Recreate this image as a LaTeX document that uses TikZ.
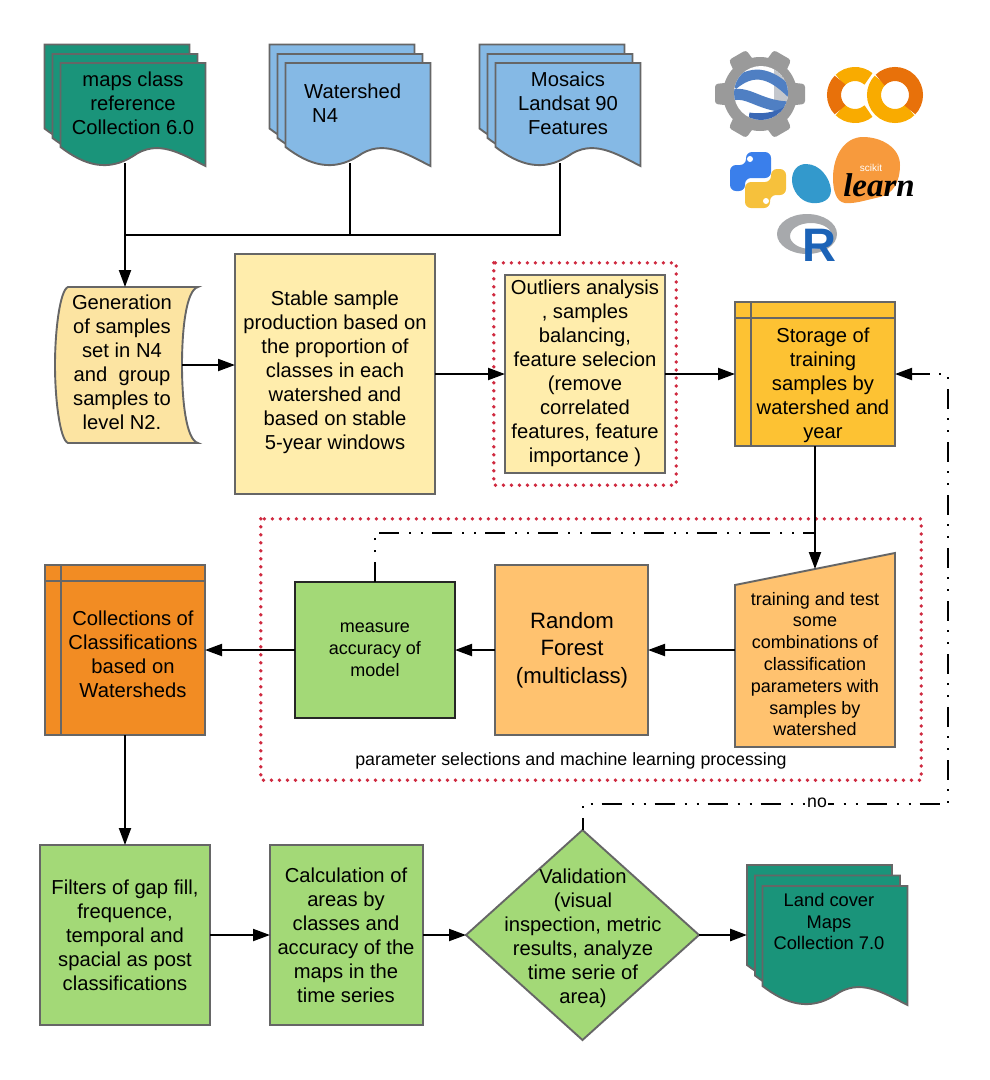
\documentclass[tikz,border=0pt]{standalone}
\usepackage{fontspec}
\setmainfont{Liberation Sans}
\newfontfamily\logoserif{Liberation Serif}
\usetikzlibrary{arrows.meta,shapes.geometric}
\definecolor{edgegray}{HTML}{666666}
\definecolor{tealdoc}{HTML}{1A947A}
\definecolor{bluedoc}{HTML}{85B9E5}
\definecolor{genyellow}{HTML}{FCE4A2}
\definecolor{paleyellow}{HTML}{FFEDAC}
\definecolor{storeamber}{HTML}{FDC233}
\definecolor{deeporange}{HTML}{F28C23}
\definecolor{softorange}{HTML}{FFC26F}
\definecolor{leafgreen}{HTML}{A3D977}
\definecolor{dotred}{HTML}{CF2A40}
\definecolor{geargray}{HTML}{9A9A9A}
\definecolor{globeblue}{HTML}{4F7FC3}
\definecolor{globedeep}{HTML}{3A68B5}
\definecolor{globeshade}{HTML}{C4C7CC}
\definecolor{colabyellow}{HTML}{F9AB00}
\definecolor{colaborange}{HTML}{E8710A}
\definecolor{pyblue}{HTML}{3A7FEB}
\definecolor{pyyellow}{HTML}{F6C13C}
\definecolor{blobblue}{HTML}{3399CC}
\definecolor{bloborange}{HTML}{F79A3D}
\definecolor{rgray}{HTML}{A7A9AC}
\definecolor{rblue}{HTML}{1C63B7}
\tikzset{
  x=1pt,y=-1pt,
  shapeedge/.style={draw=edgegray,line width=1.9pt,line join=miter},
  ghost/.style={inner sep=0pt,outer sep=0pt,minimum width=#1},
  box/.style={shapeedge,inner sep=0pt,outer sep=0pt},
  txt/.style={font=\fontsize{20.2}{24}\selectfont,align=center,inner sep=0pt,text=black},
  txtsmall/.style={font=\fontsize{18}{21.8}\selectfont,align=center,inner sep=0pt,text=black},
  conn/.style={draw=black,line width=2pt,-{Triangle[length=17pt,width=12pt]}},
  plainconn/.style={draw=black,line width=2pt},
  loopconn/.style={draw=black,line width=2pt,dash pattern=on 20pt off 10pt on 2pt off 10pt on 2pt off 9pt},
  reddots/.style={draw=dotred,line width=3.8pt,line cap=round,dash pattern=on 0pt off 8pt},
}
\newcommand{\docpage}[6]{% x,y,w,h,wave,colour
  \begin{scope}[shift={(#1,#2)}]
    \pgfmathsetmacro{\wa}{#3*0.17}\pgfmathsetmacro{\wb}{#3*0.33}\pgfmathsetmacro{\wc}{#3*0.5}
    \pgfmathsetmacro{\wd}{#3*0.67}\pgfmathsetmacro{\we}{#3*0.83}
    \path[shapeedge,fill=#6] (0,0) -- (#3,0) -- (#3,#4+#5)
      .. controls (\we,#4+#5*0.35) and (\wd,#4-#5*0.45) .. (\wc,#4+#5*0.48)
      .. controls (\wb,#4+#5*1.3) and (\wa,#4+#5*1.0) .. (0,#4) -- cycle;
  \end{scope}}
\newcommand{\docstack}[9]{% x1,y1,x2,y2,x3,y3,w,h,colour
  \docpage{#1}{#2}{#7}{#8}{19}{#9}\docpage{#3}{#4}{#7}{#8}{19}{#9}\docpage{#5}{#6}{#7}{#8}{19}{#9}}
\begin{document}
\begin{tikzpicture}
\useasboundingbox (0,0) rectangle (989,1080);

% document stacks
\docstack{44.5}{44.5}{52.5}{54}{60.5}{63}{145}{84}{tealdoc}
\docstack{269.5}{44.5}{277.5}{54}{285.5}{63}{145}{84}{bluedoc}
\docstack{479.5}{44.5}{487.5}{54}{495.5}{63}{145}{84}{bluedoc}
\docstack{747}{865}{755}{875.5}{762.5}{886}{145}{100}{tealdoc}
\node[ghost=145pt,minimum height=100pt] (maps) at (133,113) {};
\node[ghost=145pt,minimum height=100pt] (water) at (358,113) {};
\node[ghost=145pt,minimum height=100pt] (mosaics) at (568,113) {};
\node[ghost=160pt,minimum height=120pt] (landcover) at (827,935) {};
\node[txt] (mapst) at (133,103) {maps class\\reference\\Collection 6.0};
\node[txt,align=left,anchor=west] (watert) at (304,103.5) {Watershed\\\hspace*{8pt}N4};
\node[txt] (mosaicst) at (568,103) {Mosaics\\Landsat 90\\Features};
\node[font=\fontsize{18.3}{21.7}\selectfont,align=center,inner sep=0pt] (landcovert) at (829,921.5) {Land cover\\Maps\\Collection 7.0};

% generation (stored data)
\path[shapeedge,fill=genyellow] (68,287) -- (198,287)
  .. controls (186,290) and (182,330) .. (182,365)
  .. controls (182,400) and (186,440) .. (198,443)
  -- (68,443)
  .. controls (60,440) and (55,400) .. (55,365)
  .. controls (55,330) and (60,290) .. (68,287) -- cycle;
\node[ghost=114pt,minimum height=156pt] (gen) at (125,365) {};
\node[txt] (gent) at (122,362) {Generation\\of samples\\set in N4\\and\ \ group\\samples to\\level N2.};

% process boxes
\node[box,fill=paleyellow,minimum width=200pt,minimum height=240pt] (stable) at (335,374) {};
\node[txt] (stablet) at (335,372) {Stable sample\\production based on\\the proportion of\\classes in each\\watershed and\\based on stable\\5-year windows};
\node[box,fill=paleyellow,minimum width=160pt,minimum height=198pt] (outliers) at (585,374) {};
\node[txt] (outlierst) at (585,373.5) {Outliers analysis\\, samples\\balancing,\\feature selecion\\(remove\\correlated\\features, feature\\importance )};
\node[box,fill=storeamber,minimum width=160pt,minimum height=144pt] (storage) at (815,374) {};
\draw[shapeedge] ([xshift=16pt]storage.north west) -- ([xshift=16pt]storage.south west);
\draw[shapeedge] ([yshift=-16pt]storage.north west) -- ([yshift=-16pt]storage.north east);
\node[txt] (storaget) at (823,385) {Storage of\\training\\samples by\\watershed and\\year};

\path[shapeedge,fill=softorange] (735,585) -- (895,553) -- (895,747) -- (735,747) -- cycle;
\node[ghost=160pt,minimum height=162pt] (train) at (815,650) {};
\node[txtsmall] (traint) at (815,664) {training and test\\some\\combinations of\\classification\\parameters with\\samples by\\watershed};
\node[box,fill=softorange,minimum width=153pt,minimum height=170pt] (rf) at (571.5,650) {};
\node[font=\fontsize{22.2}{27.5}\selectfont,align=center,inner sep=0pt] (rft) at (572,650) {Random\\Forest\\(multiclass)};
\node[box,draw=black!85,fill=leafgreen,minimum width=160pt,minimum height=136pt] (measure) at (375,650) {};
\node[txtsmall] (measuret) at (375,650) {measure\\accuracy of\\model};
\node[box,fill=deeporange,minimum width=160pt,minimum height=170pt] (coll) at (125,650) {};
\draw[shapeedge] ([xshift=16pt]coll.north west) -- ([xshift=16pt]coll.south west);
\draw[shapeedge] ([yshift=-16pt]coll.north west) -- ([yshift=-16pt]coll.north east);
\node[txt] (collt) at (133,654.5) {Collections of\\Classifications\\based on\\Watersheds};

\node[box,fill=leafgreen,minimum width=170pt,minimum height=180pt] (filters) at (125,935) {};
\node[txt] (filterst) at (125,935.5) {Filters of gap fill,\\frequence,\\temporal and\\spacial as post\\classifications};
\node[box,fill=leafgreen,minimum width=153pt,minimum height=180pt] (calc) at (346.5,935) {};
\node[txt] (calct) at (346,935) {Calculation of\\areas by\\classes and\\accuracy of the\\maps in the\\time series};
\node[box,diamond,fill=leafgreen,minimum width=233pt,minimum height=210pt] (valid) at (582.5,935) {};
\node[txt] (validt) at (583,938) {Validation\\(visual\\inspection, metric\\results, analyze\\time serie of\\area)};

% dotted groups
\node[draw=none,minimum width=182pt,minimum height=222pt,inner sep=0pt] (groupa) at (585,374) {};
\draw[reddots] (groupa.north west) rectangle (groupa.south east);
\node[draw=none,minimum width=660pt,minimum height=261pt,inner sep=0pt] (groupb) at (591,649.5) {};
\draw[reddots] (groupb.north west) rectangle (groupb.south east);
\node[font=\fontsize{17.8}{21}\selectfont,inner sep=0pt] (caption) at (571,761) {parameter selections and machine learning processing};

% connectors
\coordinate (bus) at (125,235);
\coordinate (loopa) at (815,533);
\coordinate (loopb) at (948,804);
\draw[plainconn] ([xshift=-8pt]water.south) |- (bus);
\draw[plainconn] ([xshift=-8pt]mosaics.south) |- (bus);
\draw[conn] (maps.south -| gen.north) -- (gen.north);
\draw[conn] (gen.east) -- (gen.east -| stable.west);
\draw[conn] (stable.east) -- (outliers.west);
\draw[conn] (outliers.east) -- (storage.west);
\draw[conn] (storage.south) -- (train.north);
\draw[conn] (train.west) -- (rf.east);
\draw[conn] (rf.west) -- (measure.east);
\draw[conn] (measure.west) -- (coll.east);
\draw[conn] (coll.south) -- (filters.north);
\draw[conn] (filters.east) -- (calc.west);
\draw[conn] (calc.east) -- (valid.west);
\draw[conn,line width=2.8pt] (valid.east) -- (landcover.west);
\draw[loopconn,dash phase=8pt,-{Triangle[length=17pt,width=12pt]}] (valid.north) |- (loopb) |- (storage.east);
\draw[loopconn] (measure.north) |- (loopa);
\node[font=\fontsize{17.7}{21}\selectfont,fill=white,inner sep=1pt] (no) at (817,803) {no};

% logos: Earth Engine
\foreach \ang in {0,60,120,180,240,300}{
  \fill[geargray,rounded corners=3pt,rotate around={\ang:(760,94)}] (776,81) -- (805,84) -- (805,104) -- (776,107) -- cycle;
}
\fill[geargray] (760,94) circle[radius=37];
\begin{scope}
  \clip (761,93) circle[radius=27];
  \fill[white] (761,93) circle[radius=27];
  \fill[globeshade] (774,62) -- (795,62) -- (795,115) -- (774,115) -- cycle;
  \draw[line width=10pt,draw=globeblue] (733,85) .. controls (751,70) and (768,70) .. (791,93);
  \draw[line width=11pt,draw=globeblue] (733,95) .. controls (749,91) and (761,107) .. (791,107);
  \draw[line width=7pt,draw=globedeep] (749,116) .. controls (761,118) and (776,116) .. (786,110);
\end{scope}
% logos: Colab
\begin{scope}[line width=14pt]
  \draw[draw=colabyellow] (855,95) ++(50:21) arc[start angle=50,end angle=135,radius=21];
  \draw[draw=colabyellow] (855,95) ++(225:21) arc[start angle=225,end angle=310,radius=21];
  \draw[draw=colaborange] (855,95) ++(135:21) arc[start angle=135,end angle=225,radius=21];
  \draw[draw=colabyellow] (895,95) ++(45:21) arc[start angle=45,end angle=225,radius=21];
  \draw[draw=colaborange] (895,95) ++(225:21) arc[start angle=225,end angle=405,radius=21];
\end{scope}
% logos: Python
\fill[pyblue,rounded corners=6pt] (746,152) -- (771,152) -- (771,178) -- (745,178) -- (745,191) -- (730,191) -- (730,165) -- (746,165) -- cycle;
\fill[white] (750,159) circle[radius=3];
\begin{scope}[rotate around={180:(758,180)}]
  \fill[pyyellow,rounded corners=6pt] (746,152) -- (771,152) -- (771,178) -- (745,178) -- (745,191) -- (730,191) -- (730,165) -- (746,165) -- cycle;
  \fill[white] (750,159) circle[radius=3];
\end{scope}
% logos: scikit-learn
\fill[blobblue] (806,164) .. controls (820,164) and (830,178) .. (831,190) .. controls (831,200) and (822,204) .. (812,203) .. controls (800,202) and (792,190) .. (792,180) .. controls (792,170) and (798,164) .. (806,164) -- cycle;
\fill[bloborange] (863,137) .. controls (882,137) and (900,148) .. (900,165) .. controls (900,182) and (893,194) .. (880,197) .. controls (866,200) and (855,204) .. (845,203) .. controls (836,202) and (833,190) .. (833,178) .. controls (833,155) and (845,137) .. (863,137) -- cycle;
\node[font=\fontsize{10}{11}\selectfont,text=white,inner sep=0pt] (scikit) at (871,168) {scikit};
\node[font=\logoserif\bfseries\itshape\fontsize{33}{33}\selectfont,inner sep=0pt] (learn) at (879,185) {learn};
% logos: R
\fill[rgray,even odd rule] (807,234) ellipse[x radius=30,y radius=20] (811,236) ellipse[x radius=21,y radius=13];
\node[font=\bfseries\fontsize{47}{47}\selectfont,text=rblue,inner sep=0pt] (rlogo) at (819,245) {R};
\end{tikzpicture}
\end{document}
